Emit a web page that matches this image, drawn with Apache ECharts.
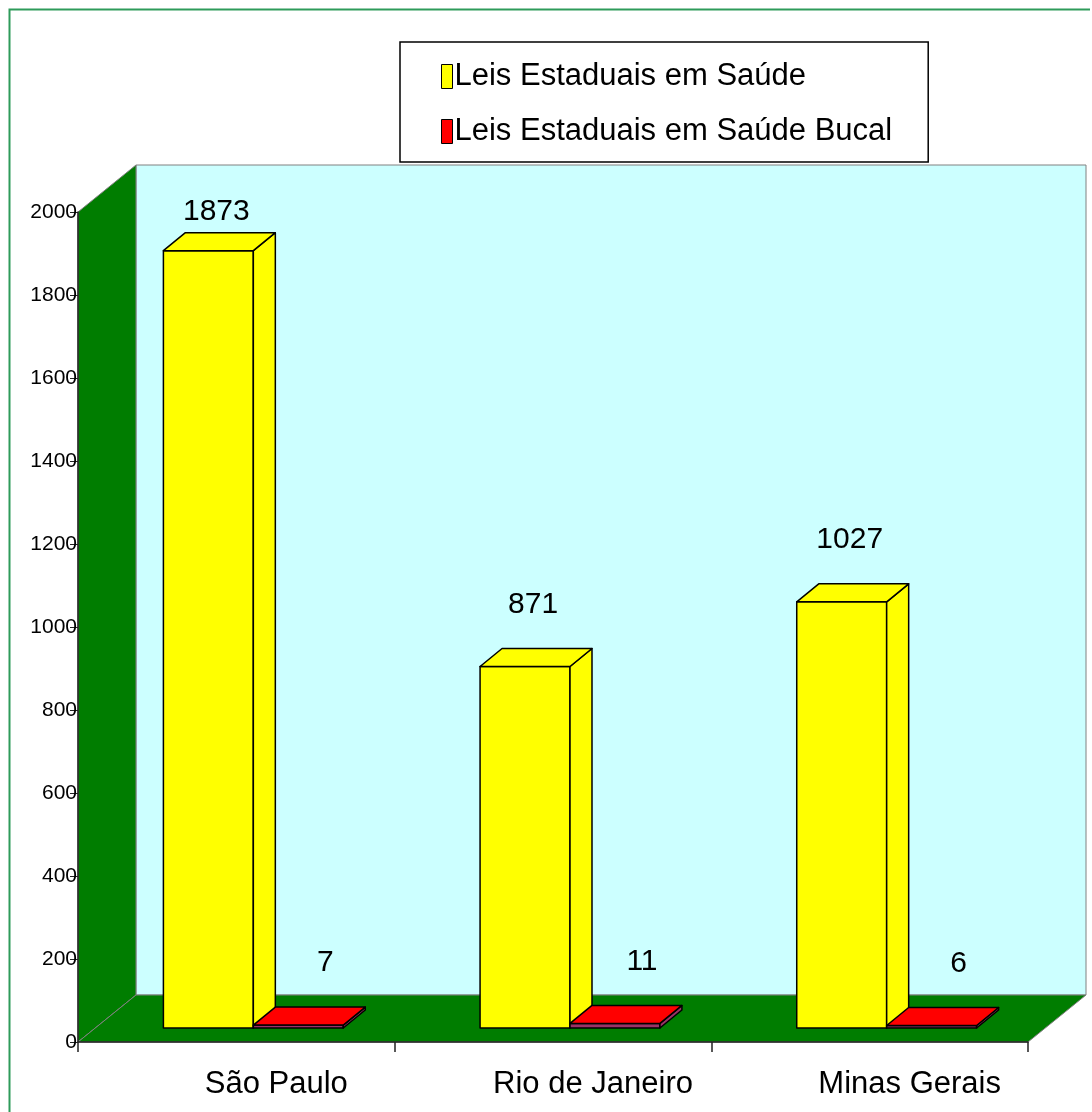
<!DOCTYPE html>
<html>
<head>
<meta charset="utf-8">
<script src="https://cdn.jsdelivr.net/npm/echarts@6/dist/echarts.min.js"></script>
<style>
html,body{margin:0;padding:0;background:#fff;}
#chart{width:1092px;height:1112px;}
</style>
</head>
<body>
<div id="chart"></div>
<script>
// ---- data ----
const categories = ['São Paulo', 'Rio de Janeiro', 'Minas Gerais'];
const seriesNames = ['Leis Estaduais em Saúde', 'Leis Estaduais em Saúde Bucal'];
const saude = [1873, 871, 1027];
const saudeBucal = [7, 11, 6];
const yTicks = [0, 200, 400, 600, 800, 1000, 1200, 1400, 1600, 1800, 2000];

// ---- styling constants ----
const Y_MIN = yTicks[0], Y_MAX = yTicks[yTicks.length - 1], Y_STEP = yTicks[1] - yTicks[0];
const FONT = 'Liberation Sans, Arial, sans-serif';
const WALL_DEPTH = [58, -47];
const BAR_FRONT = [17, -14];
const BAR_DEPTH = [22, -18];
const BAR_FRAC = 0.284;
const LABEL_UP = 62;

const chart = echarts.init(document.getElementById('chart'), null, {renderer: 'canvas'});

function frameRender(params, api) {
  const half = api.size([1, 0])[0] / 2;
  const p0 = api.coord([0, Y_MIN]);
  const p1 = api.coord([categories.length - 1, Y_MAX]);
  const x0 = p0[0] - half, x1 = p1[0] + half;
  const yb = p0[1], yt = p1[1];
  const dx = WALL_DEPTH[0], dy = WALL_DEPTH[1];
  const stroke = {stroke: '#808080', lineWidth: 1};
  return {
    type: 'group',
    children: [
      {type: 'polygon', shape: {points: [[x0 + dx, yt + dy], [x1 + dx, yt + dy], [x1 + dx, yb + dy], [x0 + dx, yb + dy]]},
       style: Object.assign({fill: '#CCFFFF'}, stroke)},
      {type: 'polygon', shape: {points: [[x0, yt], [x0 + dx, yt + dy], [x0 + dx, yb + dy], [x0, yb]]},
       style: Object.assign({fill: '#007D00'}, stroke)},
      {type: 'polygon', shape: {points: [[x0, yb], [x0 + dx, yb + dy], [x1 + dx, yb + dy], [x1, yb]]},
       style: Object.assign({fill: '#007D00'}, stroke)}
    ]
  };
}

function makeBarRender(side, fill, frontFill, sideFill, labelDx) {
  return function (params, api) {
    const ci = api.value(0), v = api.value(1);
    const base = api.coord([ci, 0]);
    const top = api.coord([ci, v]);
    const bw = api.size([1, 0])[0] * BAR_FRAC;
    const xl = base[0] + (side === 0 ? -bw : 0) + BAR_FRONT[0];
    const xr = xl + bw;
    const yb = base[1] + BAR_FRONT[1];
    const yt = top[1] + BAR_FRONT[1];
    const dx = BAR_DEPTH[0], dy = BAR_DEPTH[1];
    const ln = {stroke: '#000', lineWidth: 1.5, lineJoin: 'round'};
    const capY = api.coord([ci, Y_MAX])[1];
    const ly = Math.max(yt - LABEL_UP, capY);
    return {
      type: 'group',
      children: [
        {type: 'polygon', shape: {points: [[xl, yb], [xr, yb], [xr, yt], [xl, yt]]}, style: Object.assign({fill: frontFill}, ln)},
        {type: 'polygon', shape: {points: [[xr, yb], [xr + dx, yb + dy], [xr + dx, yt + dy], [xr, yt]]}, style: Object.assign({fill: sideFill}, ln)},
        {type: 'polygon', shape: {points: [[xl, yt], [xr, yt], [xr + dx, yt + dy], [xl + dx, yt + dy]]}, style: Object.assign({fill: fill}, ln)},
        {type: 'text', style: {text: String(v), x: (xl + xr) / 2 + labelDx, y: ly, align: 'center', verticalAlign: 'middle',
          fill: '#000', font: '30px ' + FONT}}
      ]
    };
  };
}

const option = {
  animation: false,
  backgroundColor: '#fff',
  grid: {left: 78, top: 212, width: 950, height: 830, containLabel: false},
  legend: {
    left: 400, top: 42,
    orient: 'vertical',
    data: seriesNames,
    icon: 'rect',
    itemWidth: 11, itemHeight: 24,
    itemGap: 24,
    padding: [19, 36, 15, 41],
    borderColor: '#000', borderWidth: 1.5,
    borderRadius: 0,
    textStyle: {fontSize: 31, fontFamily: FONT, color: '#000', padding: [0, 0, 0, -3]},
    itemStyle: {borderColor: '#000', borderWidth: 1}
  },
  xAxis: {
    type: 'category',
    data: categories,
    boundaryGap: true,
    axisLine: {show: true, lineStyle: {color: '#222', width: 1.5}},
    axisTick: {show: true, length: 10, lineStyle: {color: '#222', width: 1.5}},
    axisLabel: {fontSize: 31, fontFamily: FONT, color: '#000', margin: 27, padding: [0, 0, 0, 80]},
    splitLine: {show: false}
  },
  yAxis: {
    type: 'value',
    min: Y_MIN, max: Y_MAX, interval: Y_STEP,
    axisLine: {show: true, lineStyle: {color: '#222', width: 1.5}},
    axisTick: {show: true, length: 8, lineStyle: {color: '#222', width: 1}},
    axisLabel: {fontSize: 21, fontFamily: FONT, color: '#000', margin: 1, formatter: v => String(v)},
    splitLine: {show: false}
  },
  graphic: [
    {type: 'polyline', shape: {points: [[9.5, 1112], [9.5, 9.5], [1090, 9.5]]}, style: {stroke: '#2E9B5A', lineWidth: 2, fill: null}, silent: true}
  ],
  series: [
    {type: 'custom', name: 'frame', z: -1, silent: true, renderItem: frameRender, data: [[0]], legendHoverLink: false},
    {type: 'custom', name: seriesNames[0], z: 3,
     itemStyle: {color: '#FFFF00'},
     renderItem: makeBarRender(0, '#FFFF00', '#FFFF00', '#FFFF00', 8),
     data: saude.map((v, i) => [i, v])},
    {type: 'custom', name: seriesNames[1], z: 4,
     itemStyle: {color: '#FF0000'},
     renderItem: makeBarRender(1, '#FF0000', '#993366', '#993366', 27),
     data: saudeBucal.map((v, i) => [i, v])}
  ]
};
chart.setOption(option);
</script>
</body>
</html>
